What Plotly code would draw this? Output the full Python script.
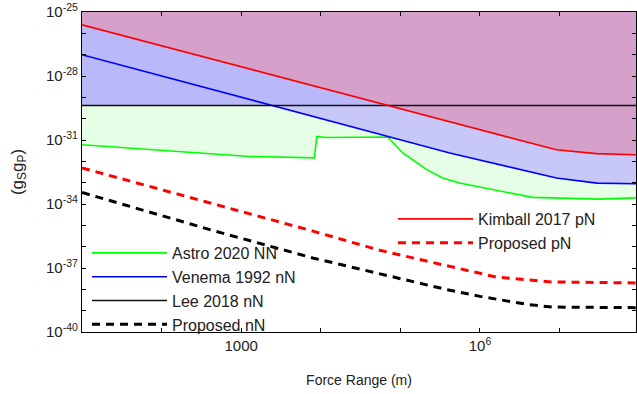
import plotly.graph_objects as go

# ---- data (log10 values) ----
kimball_logx = [1.0, 5.62, 6.96, 7.46, 7.97]
kimball_logy = [-25.60, -30.13, -31.46, -31.64, -31.69]

venema_logx = [1.0, 5.62, 6.96, 7.47, 7.97]
venema_logy = [-27.00, -31.61, -32.78, -33.02, -33.05]

lee_logx = [1.0, 7.97]
lee_logy = [-29.38, -29.38]

astro_logx = [1.0, 1.64, 2.27, 3.10, 3.92, 3.95, 4.06, 4.84, 5.03, 5.33, 5.53, 5.74, 6.66, 7.50, 7.97]
astro_logy = [-31.22, -31.38, -31.54, -31.77, -31.84, -30.83, -30.88, -30.86, -31.61, -32.39, -32.78,
              -33.02, -33.69, -33.77, -33.71]

prop_pn_logx = [1.0, 2.0, 3.0, 3.9, 4.74, 5.58, 6.21, 6.88, 7.97]
prop_pn_logy = [-32.31, -33.33, -34.33, -35.27, -36.17, -36.90, -37.43, -37.65, -37.70]

prop_nn_logx = [1.0, 2.69, 3.90, 4.74, 5.58, 6.00, 6.62, 6.91, 7.97]
prop_nn_logy = [-33.46, -35.29, -36.53, -37.26, -38.01, -38.33, -38.72, -38.83, -38.86]

x_tick_exps = [1, 2, 3, 4, 5, 6, 7]
x_tick_text = ["", "", "1000", "", "", "10<sup>6</sup>", ""]
y_tick_exps = list(range(-40, -24))
y_tick_text = [("10<sup>%d</sup>" % e) if e in (-25, -28, -31, -34, -37, -40) else "" for e in y_tick_exps]

TOP = -25.0
X_MAX = 7.96
W, H = 637, 394
L, R, T, B = 82, 1, 12, 62
PW, PH = W - L - R, H - T - B


def p(v):
    return [10 ** a for a in v]


def region(lx, ly):
    xs = list(lx) + [lx[-1], lx[0]]
    ys = list(ly) + [TOP, TOP]
    return p(xs), p(ys)


fig = go.Figure()

# filled exclusion regions (layered)
for (lx, ly, col) in [
    (astro_logx, astro_logy, "#e6fde6"),
    (venema_logx, venema_logy, "#c8c8f8"),
    (lee_logx, lee_logy, "#b9b9f9"),
    (kimball_logx, kimball_logy, "#d5a1cb"),
]:
    xs, ys = region(lx, ly)
    fig.add_trace(go.Scatter(x=xs, y=ys, fill="toself", fillcolor=col, mode="none",
                             showlegend=False, hoverinfo="skip"))

# lines: legend 1
fig.add_trace(go.Scatter(x=p(astro_logx), y=p(astro_logy), mode="lines", name="Astro 2020 NN",
                         line=dict(color="#00ff00", width=1.6), legend="legend"))
fig.add_trace(go.Scatter(x=p(venema_logx), y=p(venema_logy), mode="lines", name="Venema 1992 nN",
                         line=dict(color="#0000ff", width=1.6), legend="legend"))
fig.add_trace(go.Scatter(x=p(lee_logx), y=p(lee_logy), mode="lines", name="Lee 2018 nN",
                         line=dict(color="#111111", width=1.6), legend="legend"))
fig.add_trace(go.Scatter(x=p(prop_nn_logx), y=p(prop_nn_logy), mode="lines", name="Proposed nN",
                         line=dict(color="#000000", width=3, dash="8px,6px"), legend="legend"))
# legend 2
fig.add_trace(go.Scatter(x=p(kimball_logx), y=p(kimball_logy), mode="lines", name="Kimball 2017 pN",
                         line=dict(color="#ff0000", width=1.6), legend="legend2"))
fig.add_trace(go.Scatter(x=p(prop_pn_logx), y=p(prop_pn_logy), mode="lines", name="Proposed pN",
                         line=dict(color="#ff0000", width=3, dash="8px,6px"), legend="legend2"))

FONT = "Arial, Liberation Sans, sans-serif"
axis_common = dict(type="log", showgrid=False, zeroline=False, showline=True, linecolor="black",
                   linewidth=1.3, mirror="ticks", ticks="inside", ticklen=4, tickwidth=1.2,
                   tickcolor="black", automargin=False,
                   tickfont=dict(family=FONT, size=15, color="#222"))

leg1_top_px = 236
leg2_top_px = 202

fig.update_layout(
    width=W, height=H,
    margin=dict(l=L, r=R, t=T, b=B, autoexpand=False),
    paper_bgcolor="white", plot_bgcolor="white",
    font=dict(family=FONT, color="#222"),
    xaxis=dict(range=[1, X_MAX], tickmode="array", tickvals=p(x_tick_exps), ticktext=x_tick_text,
               title=dict(text="Force Range (m)", font=dict(size=14, family=FONT, color="#222"), standoff=22),
               **axis_common),
    yaxis=dict(range=[-40, TOP], tickmode="array", tickvals=p(y_tick_exps), ticktext=y_tick_text,
               title=dict(text="(g<sub>S</sub>g<sub>P</sub>)", font=dict(size=17, family=FONT, color="#222"), standoff=18),
               **axis_common),
    legend=dict(x=(87 - L) / PW, y=(T + PH - leg1_top_px) / PH, xanchor="left", yanchor="top",
                bgcolor="rgba(0,0,0,0)", font=dict(size=16, family=FONT, color="#222"),
                itemwidth=75, tracegroupgap=0),
    legend2=dict(x=(393 - L) / PW, y=(T + PH - leg2_top_px) / PH, xanchor="left", yanchor="top",
                 bgcolor="rgba(0,0,0,0)", font=dict(size=16, family=FONT, color="#222"),
                 itemwidth=75, tracegroupgap=0),
)

fig.write_html("out.html", config={"displayModeBar": False},
               post_script="document.body.style.margin='0px';")
